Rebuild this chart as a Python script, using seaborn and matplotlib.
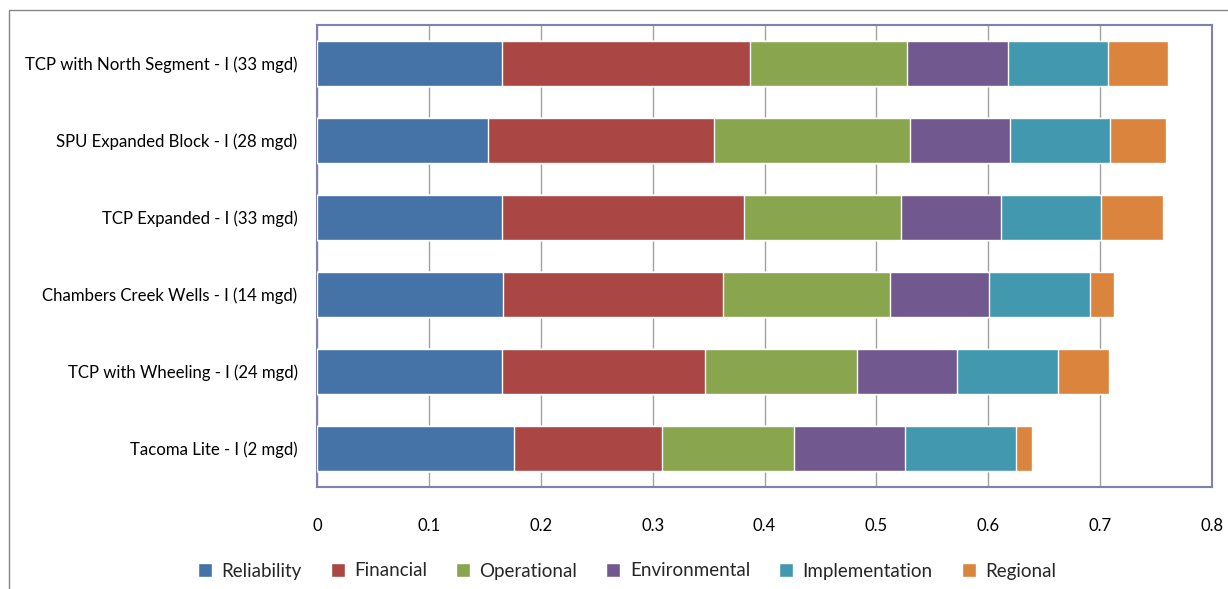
import numpy as np
import pandas as pd
import matplotlib
matplotlib.use("Agg")
import matplotlib.pyplot as plt
from matplotlib.patches import Rectangle, Patch
import seaborn as sns

# === Dados
projetos = [
    "TCP with North Segment - I (33 mgd)",
    "SPU Expanded Block - I (28 mgd)",
    "TCP Expanded - I (33 mgd)",
    "Chambers Creek Wells - I (14 mgd)",
    "TCP with Wheeling - I (24 mgd)",
    "Tacoma Lite - I (2 mgd)",
]
reliability = [0.165, 0.153, 0.165, 0.166, 0.165, 0.176]
financial = [0.222, 0.202, 0.217, 0.197, 0.182, 0.132]
operational = [0.140, 0.175, 0.140, 0.149, 0.136, 0.118]
environmental = [0.091, 0.089, 0.089, 0.089, 0.089, 0.100]
implementation = [0.089, 0.090, 0.090, 0.090, 0.090, 0.099]
regional = [0.054, 0.050, 0.055, 0.021, 0.046, 0.014]

criterios = ["Reliability", "Financial", "Operational", "Environmental", "Implementation", "Regional"]
cores = ["#4572A7", "#AA4643", "#89A54E", "#71588F", "#4198AF", "#DB843D"]
x_ticks = [0, 0.1, 0.2, 0.3, 0.4, 0.5, 0.6, 0.7, 0.8]

# === Estilo
sns.set_theme(style="white")
plt.rcParams["font.family"] = ["Lato", "DejaVu Sans"]

df = pd.DataFrame({
    "Projeto": projetos,
    "Reliability": reliability,
    "Financial": financial,
    "Operational": operational,
    "Environmental": environmental,
    "Implementation": implementation,
    "Regional": regional,
})
acumulado = df[criterios].cumsum(axis=1)

fig = plt.figure(figsize=(12.28, 5.89), dpi=100)
ax = fig.add_axes([317 / 1228, 1 - 487 / 589, (1212 - 317) / 1228, (487 - 25) / 589])

# barras empilhadas: desenha os acumulados do maior para o menor
for nome, cor in reversed(list(zip(criterios, cores))):
    sns.barplot(x=acumulado[nome], y=df["Projeto"], color=cor, orient="h",
                width=0.58, saturation=1, ax=ax, zorder=3)

ax.set_xlim(0, 0.8)
ax.set_ylim(5.5, -0.5)
ax.set_xticks(x_ticks)
ax.set_xticklabels(["0" if t == 0 else f"{t:.1f}" for t in x_ticks])
ax.xaxis.grid(True, color="#A0A0A0", linewidth=1, zorder=0)
ax.set_axisbelow(True)
ax.set_xlabel("")
ax.set_ylabel("")
ax.tick_params(axis="x", length=0, pad=22, labelsize=12, colors="black")
ax.tick_params(axis="y", length=0, pad=14, labelsize=12.1, colors="black")
for s in ax.spines.values():
    s.set_color("#8080B4")
    s.set_linewidth(1.5)

# borda externa do gráfico
fig.patches.append(Rectangle((9 / 1228, -0.05), 1.1, 1 - 10 / 589 + 0.05,
                             transform=fig.transFigure, fill=False,
                             edgecolor="#868686", linewidth=1))

handles = [Patch(facecolor=c, label=n) for n, c in zip(criterios, cores)]
fig.legend(handles=handles, loc="center", bbox_to_anchor=(627 / 1228, 1 - 571 / 589),
           ncol=6, frameon=False, fontsize=13.5, handlelength=0.75, handleheight=0.75,
           handletextpad=0.5, columnspacing=1.55)

plt.savefig("out.png", dpi=100)
